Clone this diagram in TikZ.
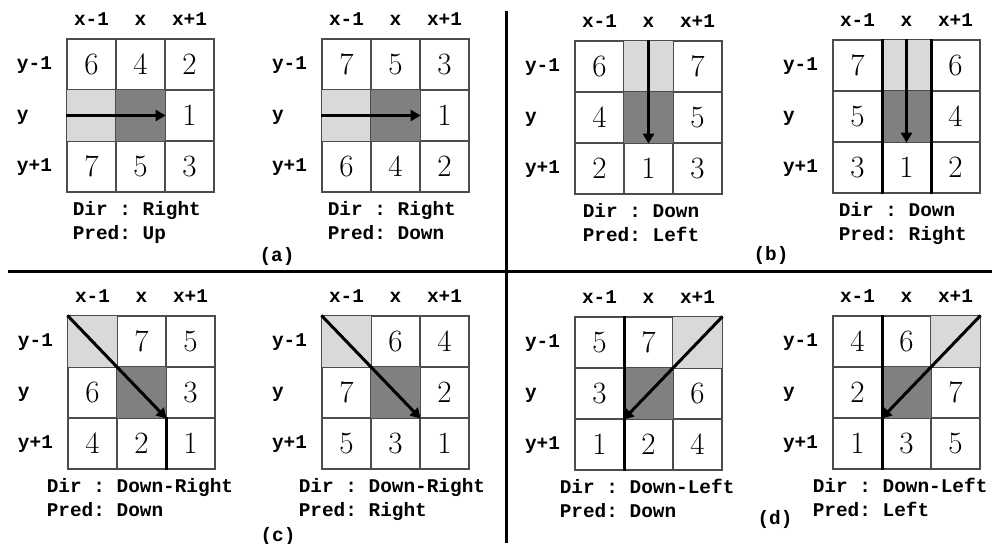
\documentclass[tikz,border=0pt]{standalone}
\usepackage{fontspec}
\newfontfamily\courier{Liberation Mono}
\usetikzlibrary{arrows.meta,positioning}

\definecolor{clair}{gray}{0.85}
\definecolor{fonce}{gray}{0.5}
\definecolor{trait}{gray}{0.3}

% Grille 3x3 : nom, coin haut-gauche, chiffres ligne par ligne
\newcommand{\grille}[3]{%
  \begin{scope}[shift={#2}]
    \foreach \ligne [count=\li] in {#3} {
      \foreach \val [count=\co] in \ligne {
        \node[case] (#1-\li\co) at ({(\co-0.5)*49}, {(\li-0.5)*51}) {\val};
      }
    }
  \end{scope}
  % Etiquettes des colonnes et des lignes
  \node[etiq, above=4pt of #1-11] (#1-c1) {x-1};
  \node[etiq, above=4pt of #1-12] (#1-c2) {x};
  \node[etiq, above=4pt of #1-13] (#1-c3) {x+1};
  \node[rangee, left=7pt of #1-11] (#1-l1) {y-1};
  \node[rangee, left=7pt of #1-21] (#1-l2) {y};
  \node[rangee, left=7pt of #1-31] (#1-l3) {y+1};
}

\begin{document}
\begin{tikzpicture}[x=0.5pt, y=-0.5pt,
    case/.style={draw=trait, line width=0.6pt, minimum width=24.5pt, minimum height=25.5pt,
      inner sep=0pt, font=\fontsize{15.5}{18}\selectfont},
    etiq/.style={font=\courier\bfseries\fontsize{9.7}{12}\selectfont, inner sep=0pt,
      text height=1.6ex, text depth=0.5ex},
    rangee/.style={etiq, text width=17.5pt, align=left},
    legende/.style={font=\courier\bfseries\fontsize{9.7}{12}\selectfont\frenchspacing,
      inner sep=0pt, align=left},
    ombre/.style={fill=#1, draw=trait, line width=0.6pt},
    epais/.style={line width=1.2pt, black},
    fleche/.style={line width=1.5pt, -{Triangle[length=5pt, width=5.5pt]}},
    separation/.style={line width=1.5pt}]
  \useasboundingbox (0,0) rectangle (992,543);

  % Separations des quatre cadrans
  \draw[separation] (506,11) -- (506,543);
  \draw[separation] (8,271.5) -- (992,271.5);

  % (a) Droite
  \grille{a1}{(67,39)}{{6,4,2},{{},{},1},{7,5,3}}
  \filldraw[ombre=clair] (a1-21.north west) rectangle (a1-21.south east);
  \filldraw[ombre=fonce] (a1-22.north west) rectangle (a1-22.south east);
  \draw[fleche] (a1-21.west) -- (a1-22.east);
  \node[legende, below=4pt of a1-31.south west, anchor=north west, xshift=3pt] (a1-leg) {Dir : Right\\Pred: Up};

  \grille{a2}{(322,39)}{{7,5,3},{{},{},1},{6,4,2}}
  \filldraw[ombre=clair] (a2-21.north west) rectangle (a2-21.south east);
  \filldraw[ombre=fonce] (a2-22.north west) rectangle (a2-22.south east);
  \draw[fleche] (a2-21.west) -- (a2-22.east);
  \node[legende, below=4pt of a2-31.south west, anchor=north west, xshift=3pt] (a2-leg) {Dir : Right\\Pred: Down};

  \node[etiq] (lab-a) at (277,257) {(a)};

  % (b) Bas
  \grille{b1}{(575,41)}{{6,{},7},{4,{},5},{2,1,3}}
  \filldraw[ombre=clair] (b1-12.north west) rectangle (b1-12.south east);
  \filldraw[ombre=fonce] (b1-22.north west) rectangle (b1-22.south east);
  \draw[fleche] (b1-12.north) -- (b1-22.south);
  \node[legende, below=4pt of b1-31.south west, anchor=north west, xshift=4pt] (b1-leg) {Dir : Down\\Pred: Left};

  \grille{b2}{(833,40)}{{7,{},6},{5,{},4},{3,1,2}}
  \filldraw[ombre=clair] (b2-12.north west) rectangle (b2-12.south east);
  \filldraw[ombre=fonce] (b2-22.north west) rectangle (b2-22.south east);
  \draw[epais] (b2-11.north east) -- (b2-31.south east);
  \draw[epais] (b2-12.north east) -- (b2-32.south east);
  \draw[fleche] (b2-12.north) -- (b2-22.south);
  \node[legende, below=4pt of b2-31.south west, anchor=north west, xshift=3pt] (b2-leg) {Dir : Down\\Pred: Right};

  \node[etiq] (lab-b) at (771,256) {(b)};

  % (c) Bas-droite
  \grille{c1}{(68,316)}{{{},7,5},{6,{},3},{4,2,1}}
  \filldraw[ombre=clair] (c1-11.north west) rectangle (c1-11.south east);
  \filldraw[ombre=fonce] (c1-22.north west) rectangle (c1-22.south east);
  \draw[epais] (c1-32.north east) -- (c1-32.south east);
  \draw[fleche] (c1-11.north west) -- (c1-22.south east);
  \node[legende, below=4pt of c1-31.south west, anchor=north west, xshift=-10.5pt] (c1-leg) {Dir : Down-Right\\Pred: Down};

  \grille{c2}{(322,316)}{{{},6,4},{7,{},2},{5,3,1}}
  \filldraw[ombre=clair] (c2-11.north west) rectangle (c2-11.south east);
  \filldraw[ombre=fonce] (c2-22.north west) rectangle (c2-22.south east);
  \draw[fleche] (c2-11.north west) -- (c2-22.south east);
  \node[legende, below=4pt of c2-31.south west, anchor=north west, xshift=-11.5pt] (c2-leg) {Dir : Down-Right\\Pred: Right};

  \node[etiq] (lab-c) at (278,537) {(c)};

  % (d) Bas-gauche
  \grille{d1}{(575,317)}{{5,7,{}},{3,{},6},{1,2,4}}
  \filldraw[ombre=clair] (d1-13.north west) rectangle (d1-13.south east);
  \filldraw[ombre=fonce] (d1-22.north west) rectangle (d1-22.south east);
  \draw[epais] (d1-11.north east) -- (d1-31.south east);
  \draw[fleche] (d1-13.north east) -- (d1-22.south west);
  \node[legende, below=4pt of d1-31.south west, anchor=north west, xshift=-7.5pt] (d1-leg) {Dir : Down-Left\\Pred: Down};

  \grille{d2}{(833,316)}{{4,6,{}},{2,{},7},{1,3,5}}
  \filldraw[ombre=clair] (d2-13.north west) rectangle (d2-13.south east);
  \filldraw[ombre=fonce] (d2-22.north west) rectangle (d2-22.south east);
  \draw[epais] (d2-11.north east) -- (d2-31.south east);
  \draw[fleche] (d2-13.north east) -- (d2-22.south west);
  \node[legende, below=4pt of d2-31.south west, anchor=north west, xshift=-10pt] (d2-leg) {Dir : Down-Left\\Pred: Left};

  \node[etiq] (lab-d) at (775,520) {(d)};
\end{tikzpicture}
\end{document}
